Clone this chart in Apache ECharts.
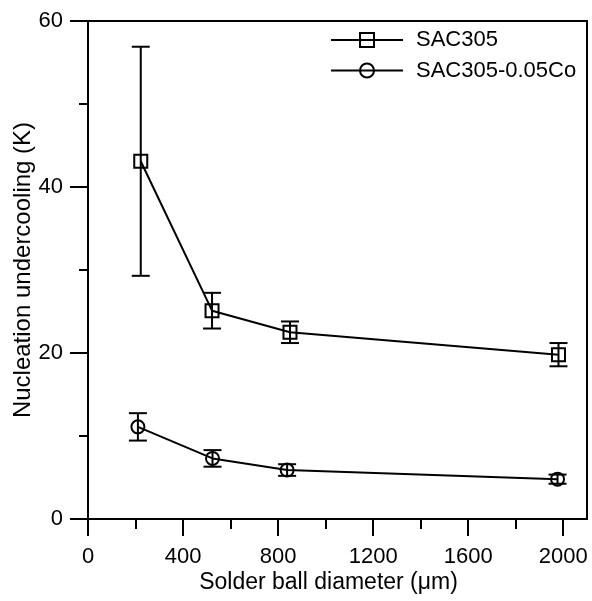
<!DOCTYPE html>
<html>
<head>
<meta charset="utf-8">
<script src="https://cdn.jsdelivr.net/npm/echarts@6/dist/echarts.min.js"></script>
<style>html,body{margin:0;padding:0;background:#fff}#c{width:592px;height:601px}</style>
</head>
<body>
<div id="c"></div>
<script>
// Data
var seriesNames = ['SAC305', 'SAC305-0.05Co'];
var sacX = [222, 522, 850, 1980];
var sacY = [43.1, 25.1, 22.5, 19.8];
var sacErr = [13.8, 2.15, 1.3, 1.4];
var coX = [210, 524, 838, 1976];
var coY = [11.1, 7.3, 5.9, 4.8];
var coErr = [1.65, 1.0, 0.7, 0.55];
var xTicks = [0, 400, 800, 1200, 1600, 2000];
var xMinorTicks = [200, 600, 1000, 1400, 1800];
var yTicks = [0, 20, 40, 60];
var yMinorTicks = [10, 30, 50];

var FONT = '"Liberation Sans", Arial, sans-serif';

function pairs(xs, ys) { return xs.map(function (x, i) { return [x, ys[i]]; }); }
function errData(xs, ys, es) { return xs.map(function (x, i) { return [x, ys[i] - es[i], ys[i] + es[i]]; }); }

function errRender(params, api) {
  var x = api.value(0), lo = api.value(1), hi = api.value(2);
  var p1 = api.coord([x, lo]), p2 = api.coord([x, hi]);
  var hw = 9;
  var st = { stroke: '#000', lineWidth: 2 };
  return {
    type: 'group',
    children: [
      { type: 'line', shape: { x1: p1[0], y1: p1[1], x2: p2[0], y2: p2[1] }, style: st },
      { type: 'line', shape: { x1: p1[0] - hw, y1: p1[1], x2: p1[0] + hw, y2: p1[1] }, style: st },
      { type: 'line', shape: { x1: p2[0] - hw, y1: p2[1], x2: p2[0] + hw, y2: p2[1] }, style: st }
    ]
  };
}

var tickLine = { color: '#000', width: 2 };
var gridBox = { left: 88, right: 5, top: 21, bottom: 82, containLabel: false, outerBoundsMode: 'none' };
var chart = echarts.init(document.getElementById('c'), null, { renderer: 'canvas' });
chart.setOption({
  animation: false,
  backgroundColor: '#fff',
  grid: [
    Object.assign({ show: true, borderColor: '#000', borderWidth: 2 }, gridBox),
    Object.assign({ show: false }, gridBox)
  ],
  legend: {
    data: seriesNames,
    top: 24, left: 325, orient: 'vertical',
    itemWidth: 72, itemHeight: 17.5, itemGap: 8.5,
    textStyle: { fontFamily: FONT, fontSize: 22, color: '#000', padding: [0, 0, 0, 8] }
  },
  xAxis: [{
    type: 'value', min: 0, max: 2100, gridIndex: 0, position: 'bottom',
    name: 'Solder ball diameter (μm)', nameLocation: 'middle', nameGap: 52, nameMoveOverlap: false,
    nameTextStyle: { fontFamily: FONT, fontSize: 23, color: '#000', padding: [0, 18, 0, 0] },
    axisLine: { show: true, onZero: false, lineStyle: { color: '#000', width: 2 } },
    axisTick: { show: true, inside: false, length: 17, customValues: xTicks, lineStyle: tickLine },
    splitLine: { show: false },
    axisLabel: { fontFamily: FONT, fontSize: 22, color: '#000', margin: 27, customValues: xTicks,
      formatter: function (v) { return String(v); } }
  }, {
    type: 'value', min: 0, max: 2100, gridIndex: 1, position: 'bottom',
    axisLine: { show: false, onZero: false },
    axisTick: { show: true, inside: false, length: 10, customValues: xMinorTicks, lineStyle: tickLine },
    splitLine: { show: false },
    axisLabel: { show: false }
  }],
  yAxis: [{
    type: 'value', min: 0, max: 60, gridIndex: 0, position: 'left',
    name: 'Nucleation undercooling (K)', nameLocation: 'middle', nameGap: 53, nameMoveOverlap: false,
    nameTextStyle: { fontFamily: FONT, fontSize: 24, color: '#000' },
    axisLine: { show: true, onZero: false, lineStyle: { color: '#000', width: 2 } },
    axisTick: { show: true, inside: false, length: 18, customValues: yTicks, lineStyle: tickLine },
    splitLine: { show: false },
    axisLabel: { fontFamily: FONT, fontSize: 22, color: '#000', margin: 25, customValues: yTicks,
      formatter: function (v) { return String(v); } }
  }, {
    type: 'value', min: 0, max: 60, gridIndex: 1, position: 'left',
    axisLine: { show: false, onZero: false },
    axisTick: { show: true, inside: false, length: 9, customValues: yMinorTicks, lineStyle: tickLine },
    splitLine: { show: false },
    axisLabel: { show: false }
  }],
  series: [
    {
      name: seriesNames[0], type: 'line', data: pairs(sacX, sacY), xAxisIndex: 0, yAxisIndex: 0,
      symbol: 'rect', symbolSize: 13,
      itemStyle: { color: 'rgba(0,0,0,0)', borderColor: '#000', borderWidth: 2 },
      lineStyle: { color: '#000', width: 2 }, z: 3
    },
    {
      name: seriesNames[1], type: 'line', data: pairs(coX, coY), xAxisIndex: 0, yAxisIndex: 0,
      symbol: 'circle', symbolSize: 13,
      itemStyle: { color: 'rgba(0,0,0,0)', borderColor: '#000', borderWidth: 2 },
      lineStyle: { color: '#000', width: 2 }, z: 3
    },
    { type: 'custom', renderItem: errRender, data: errData(sacX, sacY, sacErr), xAxisIndex: 0, yAxisIndex: 0, z: 4, encode: { x: 0, y: [1, 2] } },
    { type: 'custom', renderItem: errRender, data: errData(coX, coY, coErr), xAxisIndex: 0, yAxisIndex: 0, z: 4, encode: { x: 0, y: [1, 2] } }
  ]
});
</script>
</body>
</html>
